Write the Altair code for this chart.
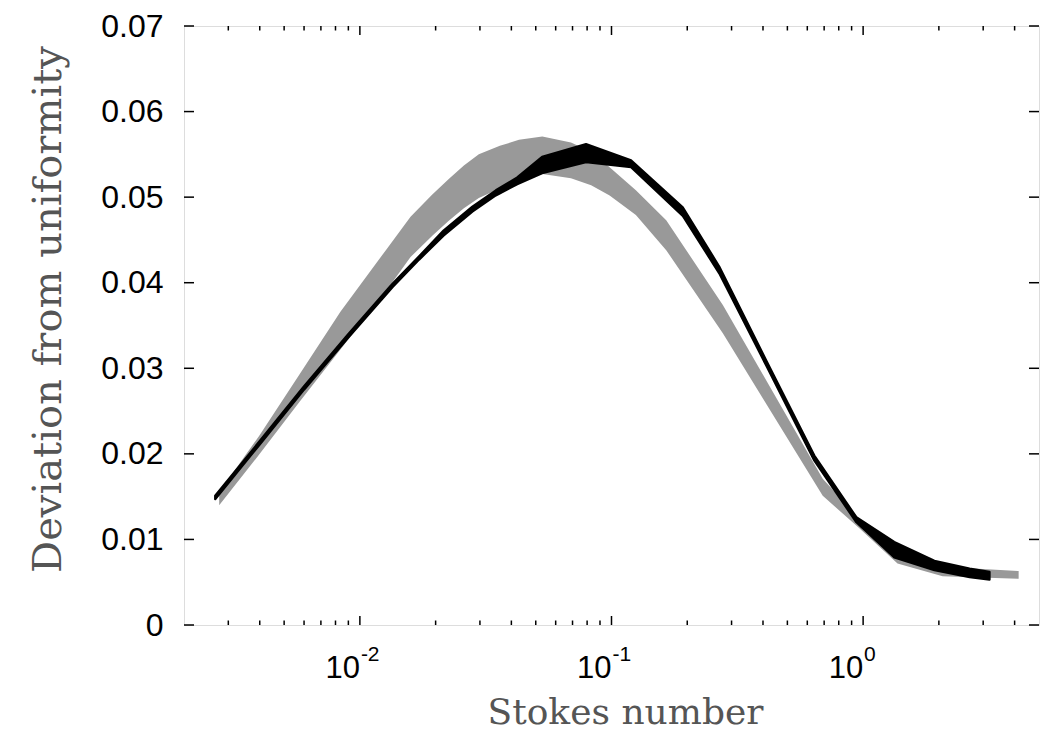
import altair as alt
import pandas as pd

# Gray band (Stokes number, lower edge, upper edge)
gray_st = [0.00276, 0.004, 0.00576, 0.00837, 0.0129, 0.0159, 0.0194, 0.0225, 0.0259,
           0.0297, 0.0360, 0.0429, 0.0531, 0.0690, 0.0830, 0.0983, 0.125, 0.165,
           0.277, 0.691, 0.966, 1.37, 2.07, 4.15]
gray_lo = [0.0140, 0.0200, 0.0261, 0.0322, 0.0393, 0.0430, 0.0455, 0.0472, 0.0487,
           0.0499, 0.0510, 0.0520, 0.0527, 0.0522, 0.0514, 0.0502, 0.0479, 0.0438,
           0.0341, 0.0151, 0.0113, 0.0072, 0.0057, 0.0054]
gray_hi = [0.0155, 0.0222, 0.0293, 0.0366, 0.0441, 0.0477, 0.0503, 0.0521, 0.0537,
           0.0550, 0.0560, 0.0567, 0.0571, 0.0564, 0.0553, 0.0535, 0.0508, 0.0473,
           0.0374, 0.0171, 0.0124, 0.0088, 0.0068, 0.0063]

# Black band
black_st = [0.00266, 0.004, 0.006, 0.009, 0.0135, 0.0172, 0.0215, 0.028, 0.0347,
            0.0422, 0.053, 0.0792, 0.1196, 0.192, 0.268, 0.414, 0.64, 0.94, 1.33,
            1.92, 2.65, 3.18]
black_lo = [0.0147, 0.0211, 0.0275, 0.0336, 0.0395, 0.0427, 0.0455, 0.0483, 0.0502,
            0.0515, 0.0528, 0.0541, 0.0535, 0.0478, 0.0411, 0.0302, 0.0192, 0.0120,
            0.0079, 0.0064, 0.0056, 0.0053]
black_hi = [0.0151, 0.0215, 0.0279, 0.0340, 0.0399, 0.0431, 0.0461, 0.0489, 0.0508,
            0.0523, 0.0547, 0.0562, 0.0543, 0.0488, 0.0419, 0.0308, 0.0198, 0.0126,
            0.0097, 0.0075, 0.0066, 0.0062]

# Axis ticks and labels
x_major = [0.01, 0.1, 1]
x_exp = ["-2", "-1", "0"]
x_minor = [0.003, 0.004, 0.005, 0.006, 0.007, 0.008, 0.009,
           0.02, 0.03, 0.04, 0.05, 0.06, 0.07, 0.08, 0.09,
           0.2, 0.3, 0.4, 0.5, 0.6, 0.7, 0.8, 0.9,
           2, 3, 4]
y_ticks = [0, 0.01, 0.02, 0.03, 0.04, 0.05, 0.06, 0.07]

W, H = 855, 599

gray_df = pd.DataFrame({"st": gray_st, "lo": gray_lo, "hi": gray_hi})
black_df = pd.DataFrame({"st": black_st, "lo": black_lo, "hi": black_hi})
xmaj_df = pd.DataFrame({"st": x_major, "base": ["10"] * 3, "exp": x_exp})
xmin_df = pd.DataFrame({"st": x_minor})
y_df = pd.DataFrame({"v": y_ticks})

xscale = alt.Scale(type="log", domain=[0.002, 5], nice=False)
yscale = alt.Scale(domain=[0, 0.07], nice=False, zero=False)

x_axis = alt.Axis(
    title="Stokes number", labels=False, ticks=False, domain=False, grid=False,
    titleFont="DejaVu Serif", titleFontSize=36, titleFontWeight="normal",
    titleColor="#555555", titleX=441, titleY=98, titleAlign="center",
    titleBaseline="alphabetic",
)
y_axis = alt.Axis(
    title="Deviation from uniformity", values=y_ticks, ticks=False, domain=False,
    grid=False, labelFont="Liberation Sans", labelFontSize=32, labelColor="black",
    labelPadding=21,
    labelExpr="datum.value == 0 ? '0' : format(datum.value, '.2f')",
    titleFont="DejaVu Serif", titleFontSize=40, titleFontWeight="normal",
    titleColor="#555555", titleX=-124, titleY=283, titleAngle=-90,
    titleAlign="center", titleBaseline="alphabetic",
)

gray = alt.Chart(gray_df).mark_area(color="#999999", opacity=1).encode(
    x=alt.X("st:Q", scale=xscale, axis=x_axis),
    y=alt.Y("lo:Q", scale=yscale, axis=y_axis),
    y2="hi:Q",
)

black = alt.Chart(black_df).mark_area(
    color="black", stroke="black", strokeWidth=2.2, strokeJoin="round", opacity=1
).encode(
    x=alt.X("st:Q", scale=xscale),
    y=alt.Y("lo:Q", scale=yscale),
    y2="hi:Q",
)

rule_kw = dict(color="black", strokeWidth=1.5)

xmaj_bot = alt.Chart(xmaj_df).mark_rule(**rule_kw).encode(
    x=alt.X("st:Q", scale=xscale), y=alt.value(H), y2=alt.value(H - 9))
xmaj_top = alt.Chart(xmaj_df).mark_rule(**rule_kw).encode(
    x=alt.X("st:Q", scale=xscale), y=alt.value(0), y2=alt.value(9))
xmin_bot = alt.Chart(xmin_df).mark_rule(**rule_kw).encode(
    x=alt.X("st:Q", scale=xscale), y=alt.value(H), y2=alt.value(H - 4.5))
xmin_top = alt.Chart(xmin_df).mark_rule(**rule_kw).encode(
    x=alt.X("st:Q", scale=xscale), y=alt.value(0), y2=alt.value(4.5))
y_left = alt.Chart(y_df).mark_rule(**rule_kw).encode(
    y=alt.Y("v:Q", scale=yscale), x=alt.value(0), x2=alt.value(10))
y_right = alt.Chart(y_df).mark_rule(**rule_kw).encode(
    y=alt.Y("v:Q", scale=yscale), x=alt.value(W), x2=alt.value(W - 10))

lab_base = alt.Chart(xmaj_df).mark_text(
    align="right", baseline="alphabetic", fontSize=31, font="Liberation Sans",
    color="black", dx=0,
).encode(x=alt.X("st:Q", scale=xscale), y=alt.value(H + 53), text="base:N")
lab_exp = alt.Chart(xmaj_df).mark_text(
    align="left", baseline="alphabetic", fontSize=21, font="Liberation Sans",
    color="black", dx=1,
).encode(x=alt.X("st:Q", scale=xscale), y=alt.value(H + 36), text="exp:N")

chart = alt.layer(
    gray, black, xmaj_bot, xmaj_top, xmin_bot, xmin_top, y_left, y_right,
    lab_base, lab_exp,
).properties(
    width=W, height=H,
    autosize=alt.AutoSizeParams(type="none"),
    padding={"left": 184, "top": 26, "right": 6, "bottom": 106},
).configure_view(
    stroke="black", strokeWidth=2
).configure(background="white")

chart.save("out.html", embed_options={"renderer": "svg", "actions": False})
